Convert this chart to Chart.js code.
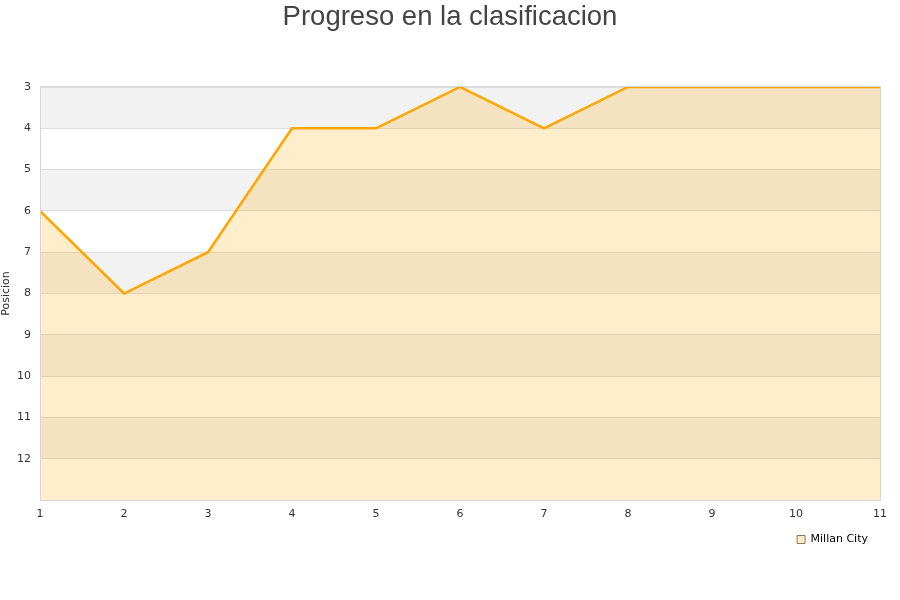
<html>
    <head>
        <script src="https://cdn.jsdelivr.net/npm/chart.js@4/dist/chart.umd.min.js"></script>
        <style>
            body { margin: 0; background: #fff; }
            #wrap { width: 900px; height: 600px; }
        </style>
    </head>
    <body>
        <div id="wrap">
            <canvas id="chart"></canvas>
        </div>
        <script>
            const TITLE = "Progreso en la clasificacion";
            const TEAM = "Millan City";
            const JORNADAS = [1, 2, 3, 4, 5, 6, 7, 8, 9, 10, 11];
            const POSICIONES = [6, 8, 7, 4, 4, 3, 4, 3, 3, 3, 3];

            // stripes behind the plot, a frame round it and the title centred on the page
            const decor = {
                id: "decor",
                beforeDraw(chart) {
                    const ctx = chart.ctx;
                    const a = chart.chartArea;
                    const y = chart.scales.y;
                    ctx.save();
                    for (let p = 3; p < 13; p += 2) {
                        ctx.fillStyle = "#f2f2f2";
                        const y0 = y.getPixelForValue(p);
                        const y1 = y.getPixelForValue(p + 1);
                        ctx.fillRect(a.left, y0, a.right - a.left, y1 - y0);
                    }
                    ctx.restore();
                },
                afterDraw(chart) {
                    const ctx = chart.ctx;
                    const a = chart.chartArea;
                    ctx.save();
                    ctx.strokeStyle = "#d6d6d6";
                    ctx.lineWidth = 1;
                    ctx.strokeRect(a.left + 0.5, a.top - 0.5, a.right - a.left, a.bottom - a.top + 1);
                    ctx.fillStyle = "#444";
                    ctx.font = "27.5px 'Liberation Sans', Arial, sans-serif";
                    ctx.textAlign = "center";
                    ctx.textBaseline = "middle";
                    ctx.fillText(TITLE, chart.width / 2, 17);
                    ctx.restore();
                }
            };

            new Chart(document.getElementById("chart"), {
                type: "line",
                data: {
                    labels: JORNADAS,
                    datasets: [{
                        label: TEAM,
                        data: POSICIONES,
                        borderColor: "#ffa500",
                        backgroundColor: "rgba(255,165,0,0.2)",
                        borderWidth: 2.5,
                        fill: { value: 13 },
                        pointRadius: 0,
                        tension: 0
                    }]
                },
                options: {
                    responsive: true,
                    maintainAspectRatio: false,
                    animation: false,
                    layout: { padding: { left: 0, right: 20, top: 87, bottom: 45 } },
                    plugins: {
                        title: { display: false },
                        legend: {
                            position: "bottom",
                            align: "end",
                            labels: {
                                boxWidth: 8,
                                boxHeight: 8,
                                padding: 12,
                                color: "#000",
                                font: { family: "DejaVu Sans", size: 11 },
                                generateLabels: (chart) => [{
                                    text: TEAM,
                                    fillStyle: "#feecca",
                                    strokeStyle: "#8a7a5a",
                                    lineWidth: 1,
                                    datasetIndex: 0
                                }]
                            }
                        },
                        tooltip: { enabled: false }
                    },
                    scales: {
                        x: {
                            type: "linear",
                            min: 1,
                            max: 11,
                            grid: { display: false, drawTicks: false },
                            border: { display: false },
                            afterFit: (s) => { s.height = 22; },
                            ticks: {
                                stepSize: 1,
                                color: "#333",
                                padding: 8,
                                font: { family: "DejaVu Sans", size: 11 }
                            }
                        },
                        y: {
                            reverse: true,
                            min: 3,
                            max: 13,
                            grid: { color: "#dddddd", drawTicks: false },
                            border: { display: false },
                            afterFit: (s) => { s.width = 40; },
                            title: {
                                display: true,
                                text: "Posicion",
                                color: "#333",
                                font: { family: "DejaVu Sans", size: 11 },
                                padding: { top: 0, bottom: 0 }
                            },
                            ticks: {
                                stepSize: 1,
                                color: "#333",
                                padding: 9,
                                font: { family: "DejaVu Sans", size: 11 },
                                callback: (v) => v == 13 ? "" : v
                            }
                        }
                    }
                },
                plugins: [decor]
            });
        </script>
    </body>
</html>
